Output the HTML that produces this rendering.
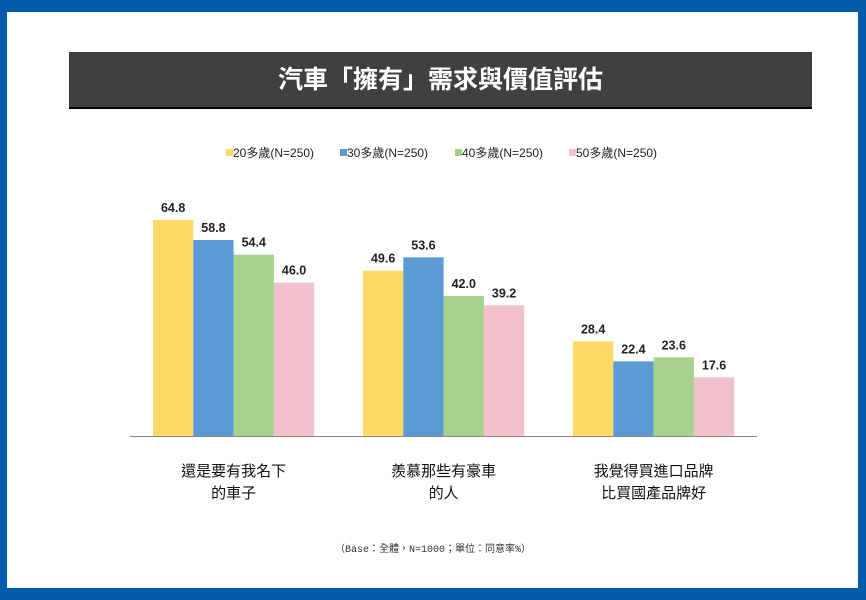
<!DOCTYPE html>
<html><head><meta charset="utf-8"><style>
body{margin:0;width:866px;height:600px;background:#035BAC;font-family:"Liberation Sans","Noto Sans CJK TC",sans-serif;overflow:hidden}
#card{position:absolute;left:7px;top:12px;width:851px;height:576px;background:#fff}
#title{position:absolute;left:69px;top:52px;width:743px;height:55px;background:#404040;border-bottom:2px solid #000;color:#fff;font-size:25px;font-weight:bold;text-align:center;line-height:56px}
</style></head><body>
<div id="card"></div>
<div id="title">汽車「擁有」需求與價值評估</div>
<svg id="chart" width="866" height="600" style="position:absolute;left:0;top:0"></svg>
<script>
const categories=[["還是要有我名下","的車子"],["羨慕那些有豪車","的人"],["我覺得買進口品牌","比買國產品牌好"]];
const seriesNames=["20多歲(N=250)","30多歲(N=250)","40多歲(N=250)","50多歲(N=250)"];
const s20=[64.8,49.6,28.4];
const s30=[58.8,53.6,22.4];
const s40=[54.4,42.0,23.6];
const s50=[46.0,39.2,17.6];
const series=[s20,s30,s40,s50];
const colors=["#FFD966","#5B9BD5","#A9D18E","#F2C1CC"];
const NS="http://www.w3.org/2000/svg";
const svg=document.getElementById('chart');
const y0=436, pxPer=216/64.8;
const y=v=>y0-v*pxPer;
const groupX=i=>153+i*210;
const barW=40.3;
function mk(t,a){const e=document.createElementNS(NS,t);for(const k in a)e.setAttribute(k,a[k]);svg.appendChild(e);return e;}
series.forEach((s,si)=>{s.forEach((v,ci)=>{
 const x=groupX(ci)+si*barW;
 const r=mk('rect',{x:x,y:y(v),width:barW,height:y0-y(v),fill:colors[si]});
 
 
 const t=mk('text',{x:x+barW/2,y:y(v)-8,'text-anchor':'middle','font-size':'12.5','font-weight':'bold',fill:'#222'});
 t.textContent=v.toFixed(1);
 
 
});});
const ax=mk('line',{x1:130,x2:757,y1:y0+0.5,y2:y0+0.5,stroke:'#888','stroke-width':1});


categories.forEach((c,ci)=>{c.forEach((l,li)=>{
 const t=mk('text',{x:groupX(ci)+2*barW,y:476+li*22,'text-anchor':'middle','font-size':'15',fill:'#111'});
 t.textContent=l;
 
 
});});
const legX=[226,340,455,569];
seriesNames.forEach((n,i)=>{
 const r=mk('rect',{x:legX[i],y:149,width:7,height:7,fill:colors[i]});
 
 
 const t=mk('text',{x:legX[i]+7,y:157,'font-size':'12',fill:'#222'});
 t.textContent=n;
 
 
});
const f=mk('text',{x:433,y:552,'text-anchor':'middle','font-size':'10',fill:'#333','font-family':'Liberation Mono,Noto Sans CJK TC,monospace'});
f.textContent="（Base：全體，N=1000；單位：同意率%）";


</script>
</body></html>
